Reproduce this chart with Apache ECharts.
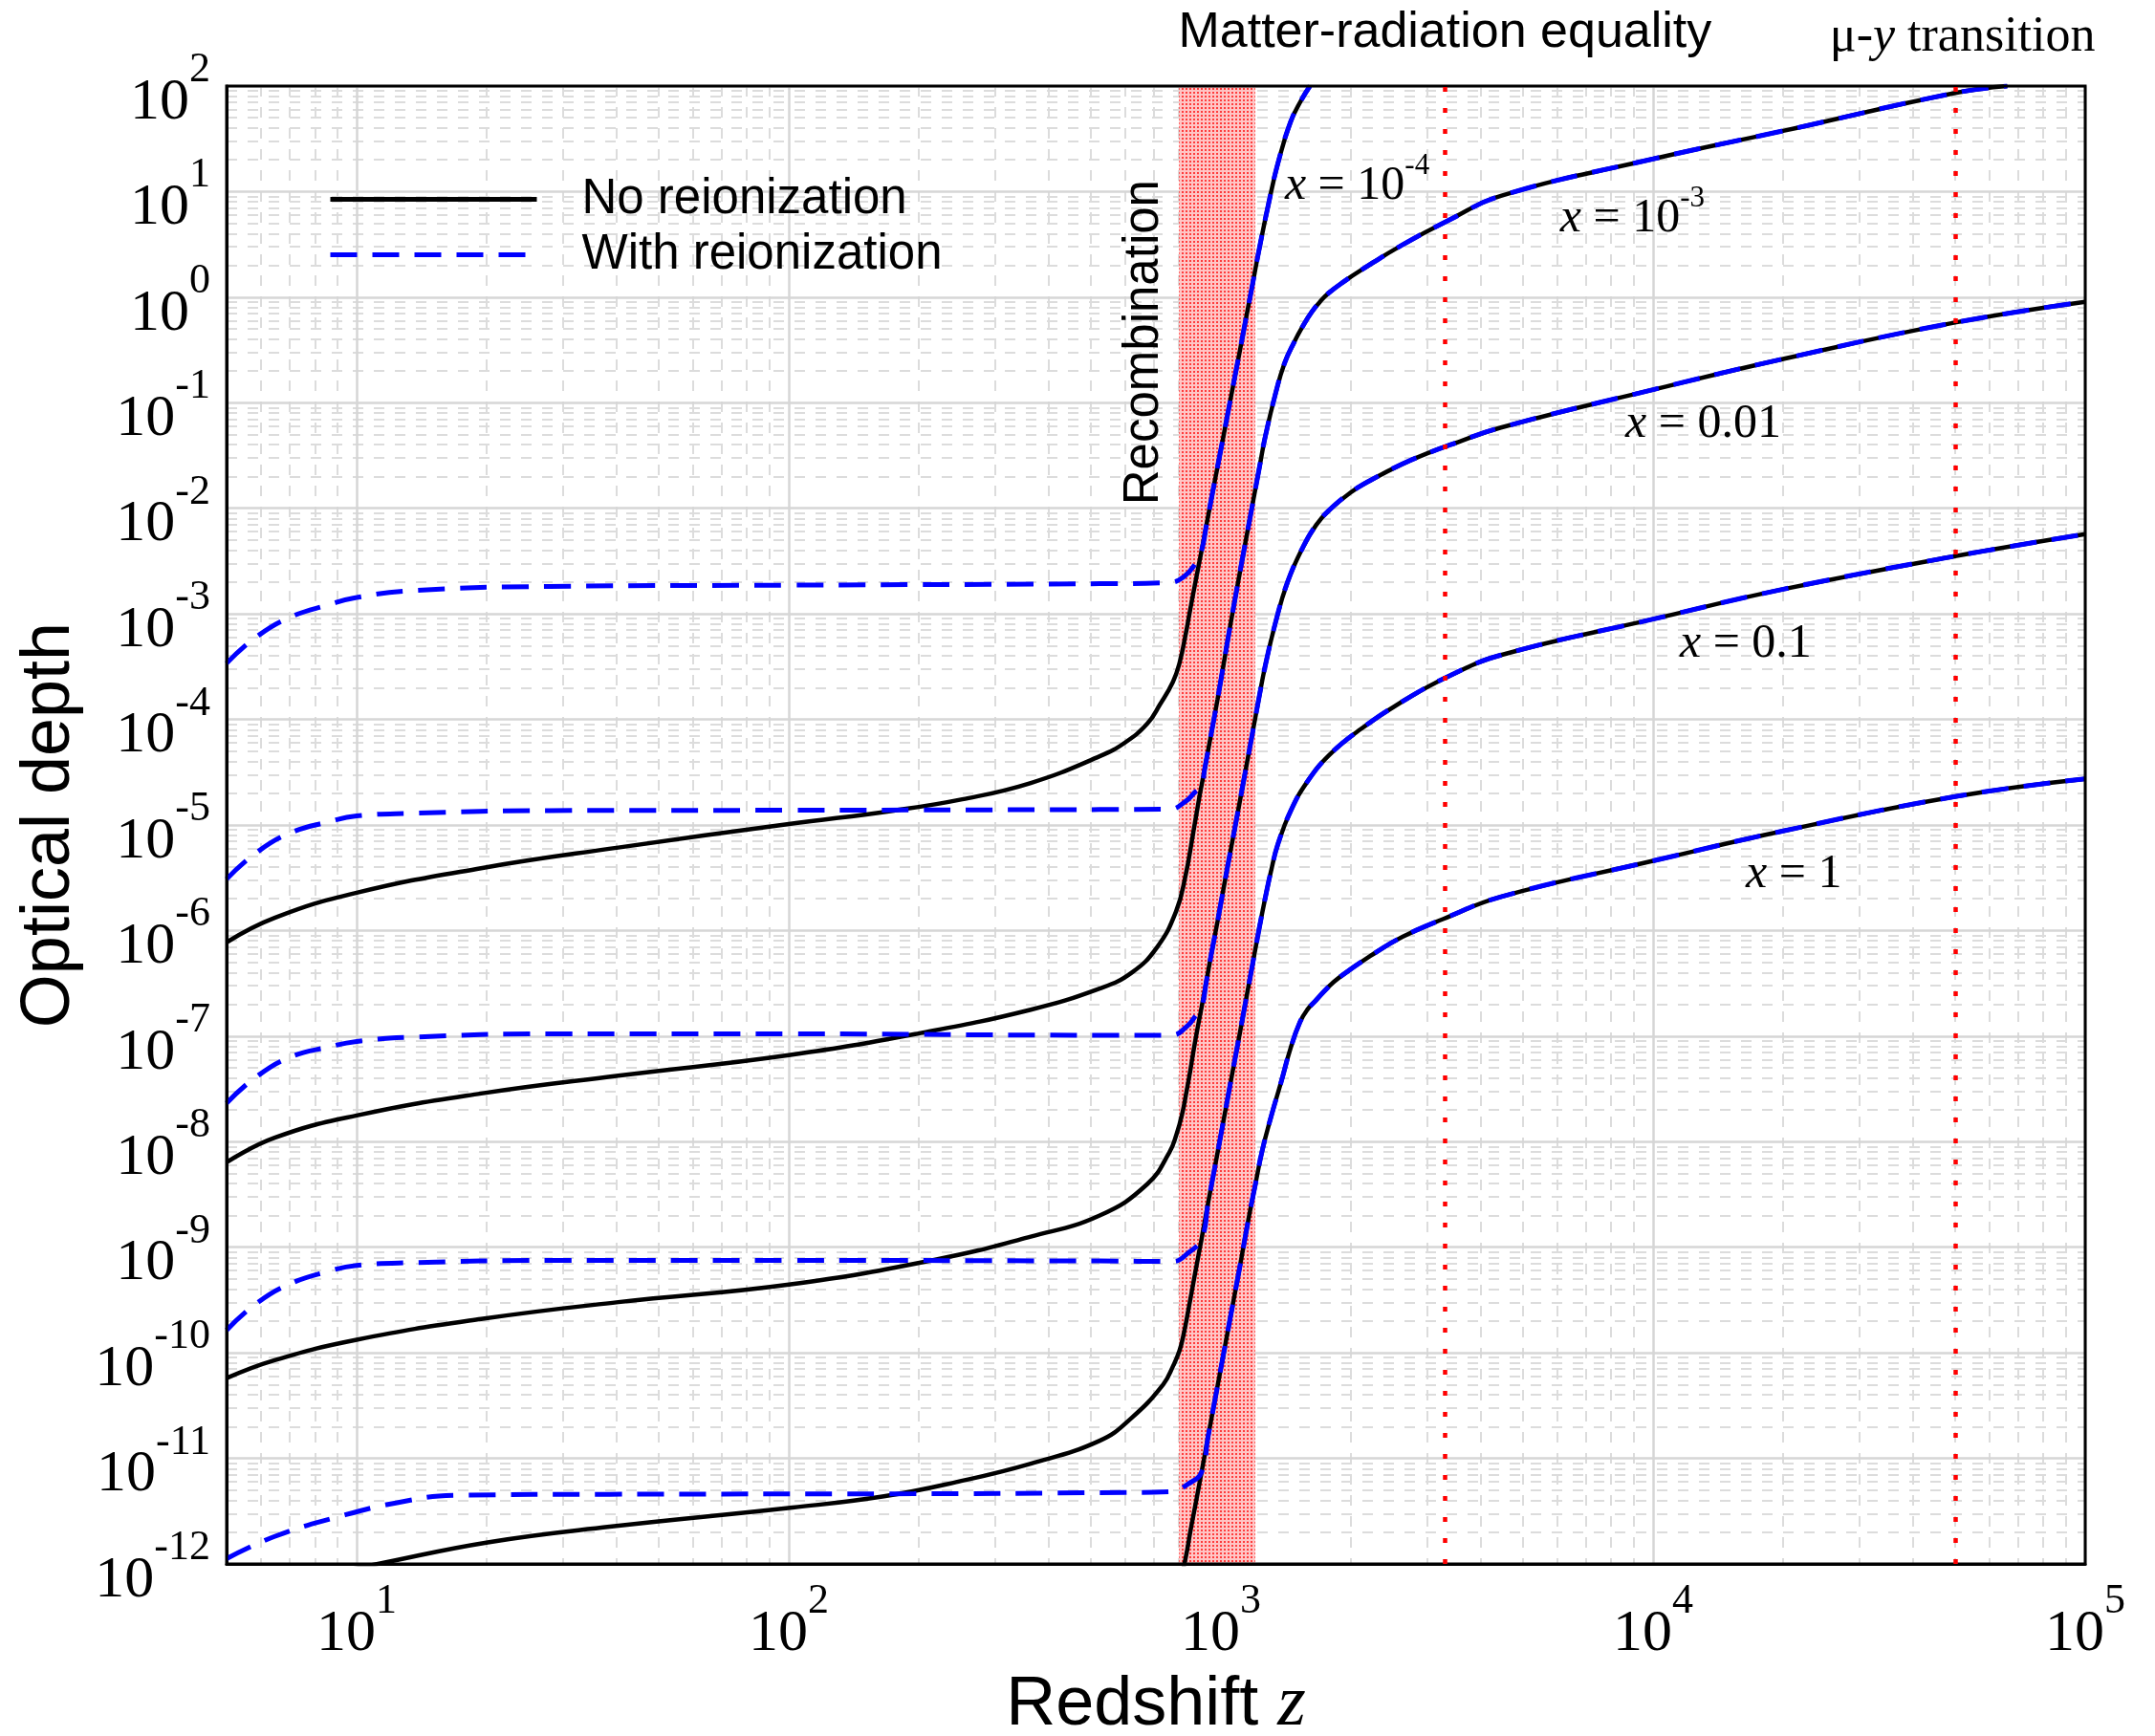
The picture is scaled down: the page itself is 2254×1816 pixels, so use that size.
<!DOCTYPE html>
<html>
<head>
<meta charset="utf-8">
<script src="https://cdn.jsdelivr.net/npm/echarts@6/dist/echarts.min.js"></script>
<style>
html,body{margin:0;padding:0;background:#fff;}
#chart{width:2254px;height:1816px;}
</style>
</head>
<body>
<div id="chart"></div>
<script>
// ================= DATA =================
const xTickValues = [10, 100, 1000, 10000, 100000];
const yTickValues = [1e-12, 1e-11, 1e-10, 1e-9, 1e-8, 1e-7, 1e-6, 1e-5, 1e-4, 1e-3, 1e-2, 1e-1, 1, 10, 100];
const minorSteps = [2, 3, 4, 5, 6, 7, 8, 9];
const xDecadeStarts = [1, 10, 100, 1000, 10000];
const yDecadeStarts = [1e-12, 1e-11, 1e-10, 1e-9, 1e-8, 1e-7, 1e-6, 1e-5, 1e-4, 1e-3, 1e-2, 1e-1, 1, 10];
const recombinationBand = [800, 1200];
const markerRedshifts = [3300, 50000];
const legendNames = ['No reionization', 'With reionization'];

// No reionization (black), [z, optical depth]
const noReionA = [[5,7.73e-7],[6.46,1.32e-6],[10,2.28e-6],[19.4,3.90e-6],[40.3,6.11e-6],[100,1.02e-5],[175,1.37e-5],[252,1.75e-5],[363,2.50e-5],[524,4.47e-5],[600,6.04e-5],[676,9.16e-5],[723,1.39e-4],[774,2.26e-4],[802,3.43e-4],[828,6.31e-4],[849,1.10e-3],[871,1.91e-3],[902,3.98e-3],[925,6.84e-3],[957,1.43e-2],[986,2.69e-2],[1033,7.24e-2],[1069,0.151],[1107,0.316],[1143,0.631],[1178,1.20],[1224,2.75],[1288,7.59],[1355,18.6],[1449,45.7],[1531,72.4],[1607,100]];
const noReionB = [[5,6.38e-9],[6.46,1.09e-8],[10,1.77e-8],[19.4,2.86e-8],[40.3,4.22e-8],[100,6.61e-8],[202,1.07e-7],[363,1.78e-7],[524,2.82e-7],[621,3.98e-7],[711,6.92e-7],[787,1.51e-6],[828,3.31e-6],[863,8.51e-6],[893,1.91e-5],[916,3.31e-5],[948,7.08e-5],[982,1.55e-4],[1014,3.31e-4],[1050,7.59e-4],[1107,2.51e-3],[1164,7.59e-3],[1233,2.69e-2],[1265,4.68e-2],[1334,0.117],[1403,0.236],[1476,0.372],[1549,0.537],[1622,0.724],[1698,0.912],[1778,1.10],[1928,1.41],[2109,1.80],[2630,3.13],[3388,5.43],[4446,9.12],[10000,20.4],[20000,37.6],[50000,86.1],[66000,100]];
const noReionC = [[5,5.75e-11],[6.46,8.51e-11],[10,1.33e-10],[19.4,2.09e-10],[40.3,3.02e-10],[100,4.43e-10],[217,7.59e-10],[363,1.26e-9],[524,2.0e-9],[676,3.98e-9],[760,7.94e-9],[789,1.17e-8],[813,1.82e-8],[832,2.95e-8],[849,4.68e-8],[871,8.79e-8],[902,1.88e-7],[925,3.28e-7],[948,5.73e-7],[982,1.22e-6],[1016,2.62e-6],[1042,4.57e-6],[1069,7.98e-6],[1107,1.71e-5],[1143,3.47e-5],[1183,7.41e-5],[1224,1.58e-4],[1265,3.16e-4],[1334,7.94e-4],[1426,2.0e-3],[1552,4.37e-3],[1660,6.92e-3],[1778,9.55e-3],[1995,1.41e-2],[2218,1.84e-2],[2630,2.63e-2],[3069,3.43e-2],[3388,3.98e-2],[4446,5.82e-2],[10000,0.133],[20000,0.26],[50000,0.575],[100000,0.904]];
const noReionD = [[9.5,8.7e-13],[11.2,1.0e-12],[20.1,1.60e-12],[38.5,2.25e-12],[102,3.42e-12],[166,4.37e-12],[244,5.96e-12],[363,8.91e-12],[524,1.47e-11],[620,2.40e-11],[735,5.01e-11],[776,7.59e-11],[802,1.05e-10],[822,1.58e-10],[841,2.57e-10],[871,5.62e-10],[902,1.20e-9],[935,2.70e-9],[973,6.40e-9],[998,1.12e-8],[1033,2.39e-8],[1069,5.10e-8],[1107,1.09e-7],[1143,2.22e-7],[1183,4.74e-7],[1224,1.01e-6],[1265,2.0e-6],[1312,3.98e-6],[1355,6.61e-6],[1449,1.35e-5],[1578,2.51e-5],[1778,4.57e-5],[2109,8.13e-5],[2630,1.48e-4],[3388,2.60e-4],[4446,4.07e-4],[10000,8.91e-4],[20000,1.71e-3],[50000,3.52e-3],[100000,5.69e-3]];
const noReionE = [[820,9.3e-13],[836,1.38e-12],[849,2.0e-12],[871,3.47e-12],[902,7.41e-12],[933,1.58e-11],[966,3.39e-11],[1007,8.38e-11],[1052,2.19e-10],[1107,6.68e-10],[1161,1.95e-9],[1202,3.98e-9],[1245,8.13e-9],[1309,1.78e-8],[1377,3.63e-8],[1449,7.67e-8],[1524,1.36e-7],[1585,1.78e-7],[1660,2.19e-7],[1758,2.82e-7],[1871,3.55e-7],[2218,5.75e-7],[2630,8.71e-7],[3273,1.29e-6],[4446,2.09e-6],[10000,4.57e-6],[20000,8.77e-6],[50000,1.86e-5],[100000,2.74e-5]];

// With reionization (blue): low-redshift part up to where it joins the black curve
const reionLowA = [[5,3.40e-4],[5.79,5.83e-4],[6.95,9.14e-4],[8.67,1.23e-3],[10,1.43e-3],[13.4,1.66e-3],[27.9,1.82e-3],[100,1.87e-3],[524,1.93e-3],[760,1.98e-3],[820,2.24e-3],[871,2.96e-3],[902,3.98e-3]];
const reionLowB = [[5,3.07e-6],[5.79,5.26e-6],[6.95,8.26e-6],[8.67,1.08e-5],[10,1.22e-5],[13.4,1.29e-5],[27.9,1.37e-5],[100,1.38e-5],[524,1.40e-5],[760,1.41e-5],[828,1.67e-5],[871,2.05e-5],[902,2.33e-5]];
const reionLowC = [[5,2.32e-8],[5.79,3.97e-8],[6.95,6.22e-8],[8.67,7.94e-8],[10,8.91e-8],[13.4,9.77e-8],[27.9,1.05e-7],[100,1.05e-7],[524,1.02e-7],[768,1.02e-7],[835,1.24e-7],[871,1.53e-7],[902,1.88e-7]];
const reionLowD = [[5,1.64e-10],[5.79,2.82e-10],[6.95,4.43e-10],[8.67,5.97e-10],[10,6.73e-10],[13.4,7.14e-10],[27.9,7.50e-10],[100,7.50e-10],[524,7.41e-10],[774,7.33e-10],[842,8.91e-10],[902,1.20e-9]];
const reionLowE = [[5,1.12e-12],[6.46,1.82e-12],[8.93,2.75e-12],[12.4,3.80e-12],[17,4.47e-12],[38.5,4.57e-12],[195,4.62e-12],[524,4.73e-12],[768,4.84e-12],[841,5.75e-12],[902,7.41e-12]];

// Annotations: [text (rich markup), z, optical depth]
const annotationTexts = ['Recombination', 'Matter-radiation equality', '{r|μ-}{i|y}{r| transition}', '{i|x}{r| = 10}{s|-4}', '{i|x}{r| = 10}{s|-3}', '{i|x}{r| = 0.01}', '{i|x}{r| = 0.1}', '{i|x}{r| = 1}'];
const annotationZ = [665, 3300, 52000, 1406, 6095, 8630, 11530, 16400];
const annotationTau = [0.373, 183, 168, 7.55, 3.71, 0.0422, 3.44e-4, 2.3e-6];

// ================= BUILD =================
const SANS = 'Liberation Sans, Arial, Helvetica, sans-serif';
const SERIF = 'Liberation Serif, Times New Roman, serif';

function minorValues(starts, lo, hi) {
  const out = [];
  starts.forEach(s => minorSteps.forEach(m => {
    const v = +(m * s).toPrecision(6);
    if (v > lo && v < hi) out.push(v);
  }));
  return out;
}
const xMinor = minorValues(xDecadeStarts, 5, 100000);
const yMinor = minorValues(yDecadeStarts, 1e-12, 100);

function powLabel(v) {
  const e = Math.round(Math.log10(v));
  if (Math.abs(v / Math.pow(10, e) - 1) > 1e-6) return '';
  return '{b|10}{s|' + e + '}';
}
const tickRich = {
  b: {fontFamily: SERIF, fontSize: 62, lineHeight: 62, padding: [35, 0, 0, 0], color: '#000'},
  s: {fontFamily: SERIF, fontSize: 44, lineHeight: 44, padding: [10, 0, 43, 0], color: '#000'}
};

// band pattern (dotted red fill)
const pat = document.createElement('canvas');
pat.width = 4; pat.height = 4;
const pg = pat.getContext('2d');
pg.fillStyle = 'rgb(255,192,192)';
pg.fillRect(0, 0, 4, 4);
pg.fillStyle = 'rgb(255,45,45)';
pg.fillRect(0, 0, 2, 2);

const families = [
  [noReionA, reionLowA], [noReionB, reionLowB], [noReionC, reionLowC], [noReionD, reionLowD], [noReionE, reionLowE]
];

const series = [];
series.push({
  type: 'line', name: 'decor', data: [], silent: true, z: 1,
  markArea: {
    silent: true,
    itemStyle: {color: {image: pat, repeat: 'repeat'}, opacity: 0.92},
    data: [[{xAxis: recombinationBand[0]}, {xAxis: recombinationBand[1]}]]
  },
  markLine: {
    silent: true, symbol: ['none', 'none'], label: {show: false},
    lineStyle: {color: '#ff0000', width: 4.5, type: [5, 17], cap: 'butt'},
    data: markerRedshifts.map(z => ({xAxis: z}))
  }
});
families.forEach(f => {
  series.push({
    type: 'line', name: legendNames[0], data: f[0], symbol: 'none', smooth: 0.45,
    lineStyle: {color: '#000', width: 4.5}, itemStyle: {color: '#000'}, z: 3, silent: true
  });
});
families.forEach(f => {
  const low = f[1];
  const zJoin = low[low.length - 1][0];
  const full = low.concat(f[0].filter(p => p[0] > zJoin));
  series.push({
    type: 'line', name: legendNames[1], data: full, symbol: 'none', smooth: 0.45,
    lineStyle: {color: '#0000ff', width: 5, type: [28, 16]}, itemStyle: {color: '#0000ff'}, z: 4, silent: true
  });
});

const annRich = {
  i: {fontFamily: SERIF, fontStyle: 'italic', fontSize: 50, lineHeight: 50, padding: [12, 0, 0, 0], color: '#000'},
  r: {fontFamily: SERIF, fontSize: 50, lineHeight: 50, padding: [12, 0, 0, 0], color: '#000'},
  s: {fontFamily: SERIF, fontSize: 31, lineHeight: 31, padding: [0, 0, 31, 0], color: '#000'}
};
const noBorder = {textBorderWidth: 0, textBorderColor: 'transparent', textShadowBlur: 0, opacity: 1};
const annStyles = [
  {rotate: 90, align: 'center', verticalAlign: 'middle', fontFamily: SANS, fontSize: 51},
  {align: 'center', verticalAlign: 'bottom', fontFamily: SANS, fontSize: 52},
  {align: 'center', verticalAlign: 'bottom', rich: {
    i: {fontFamily: SERIF, fontStyle: 'italic', fontSize: 52, lineHeight: 52, color: '#000'},
    r: {fontFamily: SERIF, fontSize: 52, lineHeight: 52, color: '#000'}}},
  {align: 'left', verticalAlign: 'bottom', rich: annRich},
  {align: 'left', verticalAlign: 'bottom', rich: annRich},
  {align: 'left', verticalAlign: 'bottom', rich: annRich},
  {align: 'left', verticalAlign: 'bottom', rich: annRich},
  {align: 'left', verticalAlign: 'bottom', rich: annRich}
];
series.push({
  type: 'scatter', name: 'annotations', clip: false, silent: true, z: 10,
  symbol: 'circle', symbolSize: 1, itemStyle: {color: 'rgba(0,0,0,0)'},
  data: annotationTexts.map((t, k) => ({
    value: [annotationZ[k], annotationTau[k]],
    label: Object.assign({show: true, position: 'inside', color: '#000', formatter: t}, noBorder, annStyles[k])
  }))
});

const option = {
  animation: false,
  backgroundColor: '#fff',
  grid: {left: 237, right: 73, top: 90, bottom: 180, containLabel: false, outerBoundsMode: 'none',
    show: true, borderColor: '#000', borderWidth: 3, backgroundColor: 'transparent', z: 5},
  legend: {
    data: legendNames, orient: 'vertical', left: 338, top: 178,
    itemWidth: 216, itemHeight: 14, itemGap: 7, selectedMode: false,
    itemStyle: {opacity: 0},
    lineStyle: {width: 5},
    textStyle: {fontFamily: SANS, fontSize: 51, color: '#000', padding: [0, 0, 0, 42]}
  },
  xAxis: [
    {
      type: 'log', logBase: 10, min: 5, max: 100000, position: 'bottom', z: 1,
      axisLine: {show: true, onZero: false, lineStyle: {color: '#000', width: 3}},
      axisTick: {show: false, customValues: xTickValues},
      axisLabel: {customValues: xTickValues, formatter: powLabel, rich: tickRich, margin: 25, color: '#000'},
      splitLine: {show: true, lineStyle: {color: '#d6d6d6', width: 2.5}},
      name: 'Redshift {i|z}', nameLocation: 'middle', nameGap: 110,
      nameTextStyle: {fontFamily: SANS, fontSize: 72, color: '#000',
        rich: {i: {fontFamily: SERIF, fontStyle: 'italic', fontSize: 76, color: '#000'}}}
    },
    {
      type: 'log', logBase: 10, min: 5, max: 100000, position: 'top', z: 0,
      axisLine: {show: false}, axisLabel: {show: false},
      axisTick: {show: false, customValues: xMinor},
      splitLine: {show: true, lineStyle: {color: '#dcdcdc', width: 2, type: [11, 11]}}
    }
  ],
  yAxis: [
    {
      type: 'log', logBase: 10, min: 1e-12, max: 100, position: 'left', z: 1,
      axisLine: {show: true, onZero: false, lineStyle: {color: '#000', width: 3}},
      axisTick: {show: false, customValues: yTickValues},
      axisLabel: {customValues: yTickValues, formatter: powLabel, rich: tickRich, margin: 17, color: '#000'},
      splitLine: {show: true, lineStyle: {color: '#d6d6d6', width: 2.5}},
      name: 'Optical depth', nameLocation: 'middle', nameGap: 122, nameRotate: 90,
      nameTextStyle: {fontFamily: SANS, fontSize: 72, color: '#000'}
    },
    {
      type: 'log', logBase: 10, min: 1e-12, max: 100, position: 'right', z: 0,
      axisLine: {show: false}, axisLabel: {show: false},
      axisTick: {show: false, customValues: yMinor},
      splitLine: {show: true, lineStyle: {color: '#dcdcdc', width: 2, type: [11, 11]}}
    }
  ],
  series: series
};

const chart = echarts.init(document.getElementById('chart'), null, {renderer: 'canvas', width: 2254, height: 1816});
chart.setOption(option);
</script>
</body>
</html>
